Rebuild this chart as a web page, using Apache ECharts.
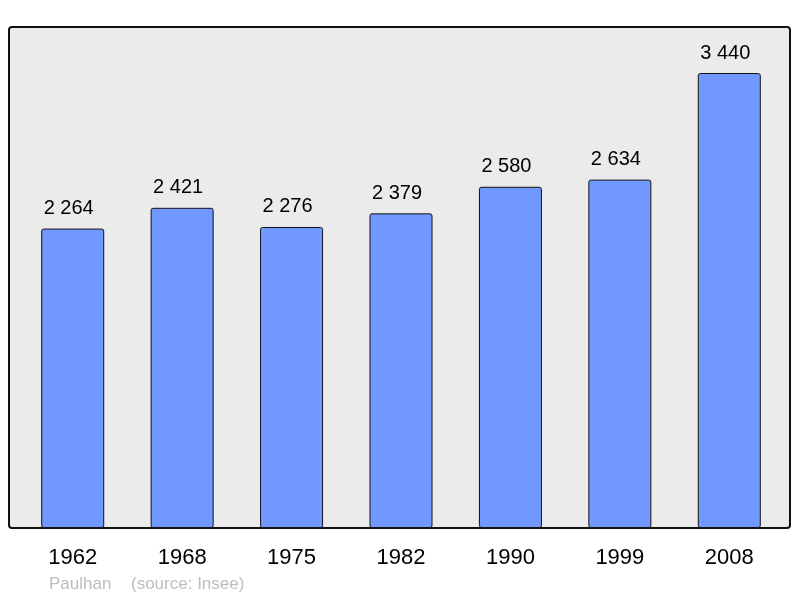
<!DOCTYPE html>
<html>
<head>
<meta charset="utf-8">
<script src="https://cdn.jsdelivr.net/npm/echarts@6/dist/echarts.min.js"></script>
<style>html,body{margin:0;padding:0;background:#fff;}#c{width:800px;height:598px;}</style>
</head>
<body>
<div id="c"></div>
<script>
const categories = ['1962', '1968', '1975', '1982', '1990', '1999', '2008'];
const population = [2264, 2421, 2276, 2379, 2580, 2634, 3440];
const footerName = 'Paulhan';
const footerSource = '(source: Insee)';

const chart = echarts.init(document.getElementById('c'), null, {renderer: 'canvas'});
const fmt = v => String(v).replace(/\B(?=(\d{3})+(?!\d))/g, ' ');
chart.setOption({
  animation: false,
  backgroundColor: '#ffffff',
  textStyle: {fontFamily: 'Liberation Sans, Arial, sans-serif'},
  graphic: [
    {type: 'rect', z: -10, shape: {x: 9, y: 27, width: 781, height: 501, r: 3},
     style: {fill: '#ebebeb', stroke: '#111', lineWidth: 2}},
    {type: 'text', left: 49, top: 576, style: {text: footerName, fill: '#bdbdbd', font: '17px Liberation Sans, Arial, sans-serif'}},
    {type: 'text', left: 131, top: 576, style: {text: footerSource, fill: '#bdbdbd', font: '17px Liberation Sans, Arial, sans-serif'}}
  ],
  grid: {left: 18, right: 16, top: 27, bottom: 70, containLabel: false},
  xAxis: {
    type: 'category', data: categories,
    axisLine: {show: false}, axisTick: {show: false},
    axisLabel: {color: '#000', fontSize: 22, margin: 19, fontFamily: 'Liberation Sans, Arial, sans-serif'}
  },
  yAxis: {
    type: 'value', min: 0, max: 3788,
    show: false, splitLine: {show: false}
  },
  series: [{
    type: 'bar', data: population, barWidth: 63,
    itemStyle: {color: '#7098ff', borderColor: '#111', borderWidth: 1, borderRadius: 2},
    label: {show: true, position: 'top', distance: 10, offset: [-4, 0], color: '#000', fontSize: 20,
      fontFamily: 'Liberation Sans, Arial, sans-serif', formatter: p => fmt(p.value)}
  }]
});
</script>
</body>
</html>
